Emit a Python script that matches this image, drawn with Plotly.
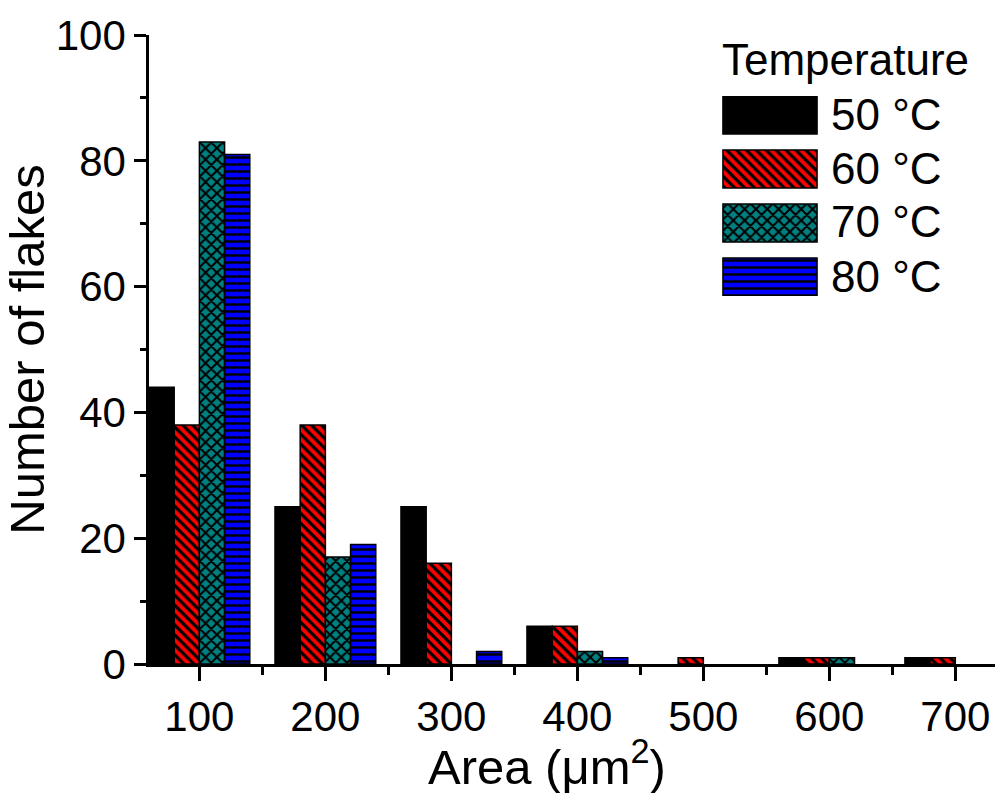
import plotly.graph_objects as go

# ---- data ----
areas = [100, 200, 300, 400, 500, 600, 700]
series_names = ["50 °C", "60 °C", "70 °C", "80 °C"]
count_50 = [44, 25, 25, 6, 0, 1, 1]
count_60 = [38, 38, 16, 6, 1, 1, 1]
count_70 = [83, 17, 0, 2, 0, 1, 0]
count_80 = [81, 19, 2, 1, 0, 0, 0]
y_ticks = [0, 20, 40, 60, 80, 100]
x_ticks = [100, 200, 300, 400, 500, 600, 700]

series_vals = [count_50, count_60, count_70, count_80]
colors = ["#000000", "#FF0000", "#008080", "#0000FF"]
patterns = [
    dict(shape=""),
    dict(shape="\\", fgcolor="#000000", bgcolor="#FF0000", size=7, solidity=0.45, fillmode="replace"),
    dict(shape="x", fgcolor="#000000", bgcolor="#008080", size=8, solidity=0.45, fillmode="replace"),
    dict(shape="-", fgcolor="#000000", bgcolor="#0000FF", size=7, solidity=0.35, fillmode="replace"),
]

FONT = "Liberation Sans, Arial, sans-serif"

fig = go.Figure()
for name, vals, col, pat in zip(series_names, series_vals, colors, patterns):
    fig.add_trace(go.Bar(
        x=areas, y=vals, name=name,
        marker=dict(color=col, pattern=pat,
                    line=dict(color="#000000", width=[1.5 if v else 0 for v in vals])),
        showlegend=False,
    ))

# custom legend swatches drawn as bars on an inset axis
for i, (name, col, pat) in enumerate(zip(series_names, colors, patterns)):
    fig.add_trace(go.Bar(
        x=[1], y=[i], orientation="h", width=0.704,
        marker=dict(color=col, pattern=pat, line=dict(color="#000000", width=1.5)),
        xaxis="x2", yaxis="y2", showlegend=False, hoverinfo="skip",
    ))

W, H = 995, 793
L, R, T, B = 149, 0, 35, 129
pw = W - L - R
ph = H - T - B

def px_x(p):
    return (p - L) / pw

def px_y(p):
    return (H - B - p) / ph

fig.update_layout(
    width=W, height=H,
    margin=dict(l=L, r=R, t=T, b=B),
    paper_bgcolor="white", plot_bgcolor="white",
    barmode="group", bargap=0.2, bargroupgap=0,
    font=dict(family=FONT, color="black", size=42),
    showlegend=False,
    xaxis=dict(
        range=[60, 731.5], tickvals=x_ticks,
        showline=True, linecolor="black", linewidth=2.5,
        ticks="outside", ticklen=14, tickwidth=2.5, tickcolor="black",
        minor=dict(dtick=50, tick0=0, ticks="outside", ticklen=8, tickwidth=2.5, tickcolor="black", showgrid=False),
        showgrid=False, zeroline=False,
        tickfont=dict(size=42),
    ),
    yaxis=dict(
        range=[0, 100], tickvals=y_ticks,
        showline=True, linecolor="black", linewidth=2.5,
        ticks="outside", ticklen=12, tickwidth=2.5, tickcolor="black",
        minor=dict(dtick=10, tick0=0, ticks="outside", ticklen=6, tickwidth=2.5, tickcolor="black", showgrid=False),
        showgrid=False, zeroline=False,
        tickfont=dict(size=42),
        title=dict(text="Number of flakes", font=dict(size=49), standoff=8),
    ),
    xaxis2=dict(domain=[px_x(722), px_x(818)], range=[-0.01, 1.01], anchor="y2",
                visible=False, fixedrange=True),
    yaxis2=dict(domain=[px_y(296), px_y(96)], range=[3.352, -0.352], anchor="x2",
                visible=False, fixedrange=True),
)

# x axis title
fig.add_annotation(text="Area (μm<sup>2</sup>)", xref="paper", yref="paper",
                   x=px_x(547), y=px_y(763), xanchor="center", yanchor="middle",
                   showarrow=False, font=dict(size=49, family=FONT))

fig.add_annotation(text="Temperature", xref="paper", yref="paper",
                   x=px_x(720), y=px_y(60), xanchor="left", yanchor="middle",
                   showarrow=False, font=dict(size=44, family=FONT))
for i, name in enumerate(series_names):
    yc = 114 + 54 * i
    fig.add_annotation(text=name, xref="paper", yref="paper",
                       x=px_x(829), y=px_y(yc), xanchor="left", yanchor="middle",
                       showarrow=False, font=dict(size=44, family=FONT))

fig.write_html("out.html")
